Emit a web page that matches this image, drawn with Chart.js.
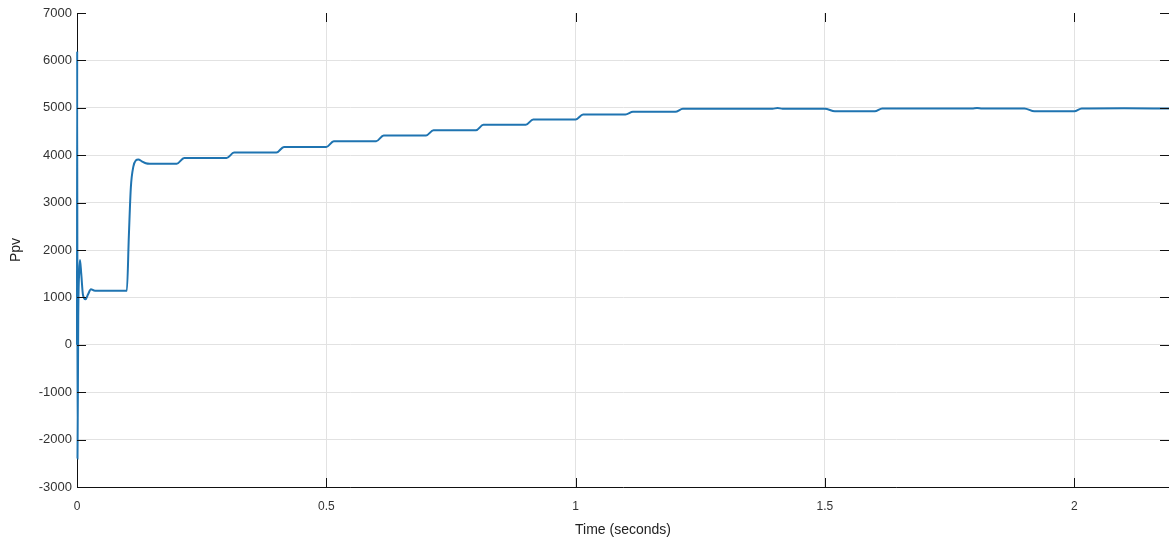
<!DOCTYPE html>
<html>
<head>
<meta charset="utf-8">
<script src="https://cdn.jsdelivr.net/npm/chart.js@4.4.1/dist/chart.umd.min.js"></script>
<style>
  html, body { margin: 0; padding: 0; background: #fff; overflow: hidden; }
  #wrap { width: 1169px; height: 540px; }
</style>
</head>
<body>
<div id="wrap"><canvas id="grafico"></canvas></div>
<script>
// tempo de simulacao (s) e potencia do painel
const timeSec = [0, 0.0004, 0.0010, 0.0025, 0.0045, 0.0060, 0.0085, 0.012, 0.017, 0.022, 0.028, 0.034, 0.040,
  0.100, 0.104, 0.108, 0.113, 0.118, 0.123, 0.130, 0.138, 0.146,
  0.200, 0.215, 0.300, 0.315, 0.400, 0.415, 0.500, 0.515, 0.600, 0.615, 0.700, 0.715,
  0.800, 0.815, 0.900, 0.915, 1.000, 1.015, 1.100, 1.115, 1.200, 1.215,
  1.395, 1.405, 1.415, 1.500, 1.520, 1.600, 1.615, 1.795, 1.805, 1.815,
  1.900, 1.920, 2.000, 2.015, 2.100, 2.190];
const ppv = [0, 6200, -2400, 600, 1550, 1790, 1500, 1050, 960, 1060, 1170, 1145, 1140,
  1140, 2300, 3320, 3760, 3890, 3910, 3870, 3830, 3820,
  3820, 3940, 3940, 4055, 4055, 4175, 4175, 4295, 4295, 4415, 4415, 4525,
  4525, 4640, 4640, 4755, 4755, 4860, 4860, 4915, 4915, 4980,
  4980, 4995, 4980, 4980, 4925, 4925, 4985, 4985, 4995, 4985,
  4985, 4925, 4925, 4985, 4990, 4985];

const xTicks = [0, 0.5, 1, 1.5, 2];
const yTicks = [-3000, -2000, -1000, 0, 1000, 2000, 3000, 4000, 5000, 6000, 7000];

const pontos = timeSec.map((t, i) => ({ x: t, y: ppv[i] }));

// marcas dos ticks para dentro, estilo matlab
const ticksDentro = {
  id: 'ticksDentro',
  afterDraw(chart) {
    const ctx = chart.ctx;
    const a = chart.chartArea;
    const sx = chart.scales.x, sy = chart.scales.y;
    ctx.save();
    ctx.strokeStyle = '#111';
    ctx.lineWidth = 1;
    ctx.beginPath();
    xTicks.forEach(v => {
      const px = Math.round(sx.getPixelForValue(v)) + 0.5;
      ctx.moveTo(px, a.bottom); ctx.lineTo(px, a.bottom - 9);
      ctx.moveTo(px, a.top); ctx.lineTo(px, a.top + 9);
    });
    yTicks.forEach(v => {
      const py = Math.round(sy.getPixelForValue(v)) + 0.5;
      ctx.moveTo(a.left, py); ctx.lineTo(a.left + 9, py);
      ctx.moveTo(a.right, py); ctx.lineTo(a.right - 9, py);
    });
    ctx.stroke();
    ctx.restore();
  }
};

let grafico = document.getElementById('grafico').getContext('2d');

let chart = new Chart(grafico, {
  type: 'line',
  data: {
    datasets: [
      {
        label: 'Ppv',
        data: pontos,
        borderColor: '#1f74b1',
        borderWidth: 2,
        pointRadius: 0,
        cubicInterpolationMode: 'monotone',
        fill: false,
        clip: 2
      }
    ]
  },
  options: {
    responsive: true,
    maintainAspectRatio: false,
    animation: false,
    layout: { padding: { top: 13, right: 0, left: 0, bottom: 0 } },
    plugins: {
      legend: { display: false },
      tooltip: { enabled: false }
    },
    scales: {
      x: {
        type: 'linear',
        min: 0,
        max: 2.19,
        afterFit: s => { s.height = 53; },
        afterBuildTicks: s => { s.ticks = xTicks.map(v => ({ value: v })); },
        ticks: {
          includeBounds: false,
          padding: 12,
          color: '#333',
          font: { family: 'Liberation Sans, Arial, sans-serif', size: 12 },
          callback: v => String(v)
        },
        grid: { color: '#e2e2e2', drawTicks: false },
        border: { color: '#111', width: 1 },
        title: {
          display: true,
          text: 'Time (seconds)',
          color: '#222',
          font: { family: 'Liberation Sans, Arial, sans-serif', size: 14 },
          padding: { top: 0, bottom: 1 }
        }
      },
      y: {
        min: -3000,
        max: 7000,
        afterFit: s => { s.width = 77; },
        afterBuildTicks: s => { s.ticks = yTicks.map(v => ({ value: v })); },
        ticks: {
          padding: 5,
          color: '#333',
          font: { family: 'Liberation Sans, Arial, sans-serif', size: 13 },
          callback: v => String(v)
        },
        // sem linha de grade no topo (7000)
        grid: {
          color: c => (c.tick && c.tick.value === 7000 ? 'rgba(0,0,0,0)' : '#e2e2e2'),
          drawTicks: false
        },
        border: { color: '#111', width: 1 },
        title: {
          display: true,
          text: 'Ppv',
          color: '#222',
          font: { family: 'Liberation Sans, Arial, sans-serif', size: 14 },
          padding: { top: 8, bottom: 0 }
        }
      }
    }
  },
  plugins: [ticksDentro]
});
</script>
</body>
</html>
